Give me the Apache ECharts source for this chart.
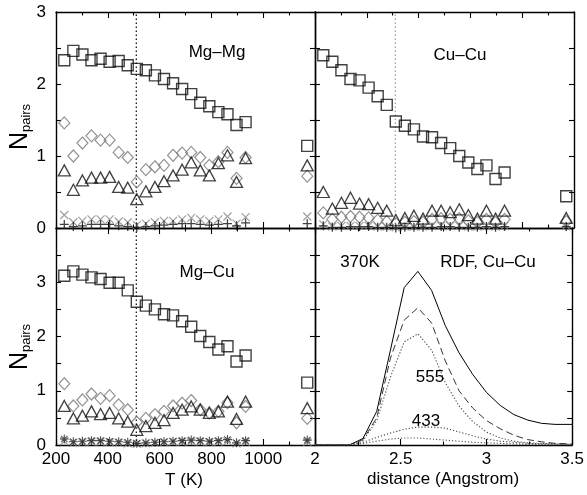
<!DOCTYPE html>
<html><head><meta charset="utf-8">
<script src="https://cdn.jsdelivr.net/npm/echarts@6/dist/echarts.min.js"></script>
<style>html,body{margin:0;padding:0;background:#fff}#c{width:587px;height:495px}</style>
</head><body><div id="c"></div>
<script>
// ---------- data ----------
const temps = [232, 267, 302, 337, 372, 407, 442, 477, 512, 547, 582, 617, 652, 687, 722, 757, 792, 827, 862, 897, 932];
const tLiquid = 1170;
const tTransition = 510;

// Mg-Mg panel
const mgmgSquare  = [2.33, 2.46, 2.41, 2.33, 2.35, 2.31, 2.32, 2.26, 2.21, 2.19, 2.12, 2.07, 2.01, 1.93, 1.86, 1.74, 1.69, 1.61, 1.58, 1.43, 1.47, 1.14];
const mgmgDiamond = [1.46, 1.00, 1.18, 1.28, 1.22, 1.22, 1.05, 0.98, 0.64, 0.81, 0.85, 0.87, 1.01, 1.04, 1.05, 0.98, 0.87, 0.92, 1.05, 0.69, 0.98, 0.72];
const mgmgTriangle= [0.80, 0.53, 0.66, 0.70, 0.70, 0.71, 0.57, 0.56, 0.40, 0.51, 0.57, 0.65, 0.73, 0.81, 0.91, 0.80, 0.73, 0.90, 1.01, 0.64, 0.97, 0.87];
const mgmgCross   = [0.18, 0.08, 0.10, 0.12, 0.12, 0.12, 0.09, 0.08, 0.04, 0.06, 0.08, 0.10, 0.10, 0.12, 0.14, 0.12, 0.10, 0.12, 0.16, 0.06, 0.15, 0.16];
const mgmgPlus    = [0.05, 0.02, 0.03, 0.05, 0.05, 0.05, 0.03, 0.02, 0.01, 0.02, 0.03, 0.04, 0.05, 0.06, 0.06, 0.05, 0.04, 0.05, 0.06, 0.03, 0.07, 0.06];

// Cu-Cu panel
const cucuSquare  = [2.40, 2.31, 2.19, 2.07, 2.05, 1.95, 1.83, 1.71, 1.48, 1.42, 1.37, 1.27, 1.26, 1.18, 1.11, 1.00, 0.91, 0.82, 0.87, 0.68, 0.77, 0.44];
const cucuTriangle= [0.50, 0.27, 0.35, 0.42, 0.34, 0.33, 0.28, 0.24, 0.11, 0.14, 0.17, 0.13, 0.24, 0.24, 0.22, 0.26, 0.18, 0.13, 0.24, 0.13, 0.24, 0.14];
const cucuDiamond = [0.21, 0.12, 0.15, 0.16, 0.15, 0.14, 0.11, 0.09, 0.06, 0.08, 0.09, 0.08, 0.12, 0.13, 0.12, 0.13, 0.10, 0.08, 0.12, 0.08, 0.12, 0.09];
const cucuCross   = [0.05, 0.02, 0.03, 0.03, 0.03, 0.03, 0.02, 0.02, 0.01, 0.02, 0.02, 0.02, 0.03, 0.03, 0.03, 0.03, 0.02, 0.02, 0.03, 0.02, 0.03, 0.03];
const cucuPlus    = [0.03, 0.01, 0.01, 0.02, 0.02, 0.02, 0.01, 0.01, 0.00, 0.01, 0.01, 0.01, 0.01, 0.02, 0.02, 0.01, 0.01, 0.01, 0.02, 0.01, 0.02, 0.02];

// Mg-Cu panel
const mgcuSquare  = [3.12, 3.20, 3.14, 3.09, 3.06, 2.99, 2.99, 2.85, 2.64, 2.57, 2.50, 2.41, 2.39, 2.28, 2.18, 2.01, 1.90, 1.76, 1.82, 1.54, 1.65, 1.15];
const mgcuDiamond = [1.13, 0.72, 0.83, 0.94, 0.86, 0.91, 0.74, 0.65, 0.42, 0.49, 0.56, 0.62, 0.72, 0.77, 0.82, 0.65, 0.59, 0.62, 0.78, 0.41, 0.71, 0.49];
const mgcuTriangle= [0.72, 0.49, 0.54, 0.62, 0.57, 0.59, 0.49, 0.43, 0.28, 0.35, 0.41, 0.46, 0.59, 0.65, 0.71, 0.65, 0.59, 0.62, 0.80, 0.48, 0.80, 0.68];
const mgcuStar    = [0.11, 0.06, 0.07, 0.08, 0.08, 0.07, 0.06, 0.05, 0.03, 0.04, 0.05, 0.06, 0.07, 0.08, 0.09, 0.08, 0.07, 0.08, 0.10, 0.04, 0.08, 0.09];
const mgcuCross   = [0.07, 0.04, 0.05, 0.06, 0.06, 0.05, 0.04, 0.03, 0.02, 0.03, 0.04, 0.05, 0.06, 0.06, 0.07, 0.06, 0.05, 0.06, 0.07, 0.03, 0.06, 0.06];

// RDF Cu-Cu panel
const dist      = [2.0, 2.2, 2.28, 2.36, 2.44, 2.52, 2.6, 2.68, 2.76, 2.84, 2.92, 3.0, 3.08, 3.16, 3.24, 3.32, 3.4, 3.5];
const rdf370    = [0, 0, 0.12, 0.62, 1.75, 2.90, 3.20, 2.85, 2.20, 1.70, 1.30, 0.97, 0.73, 0.56, 0.46, 0.40, 0.38, 0.38];
const rdfDashed = [0, 0, 0.10, 0.50, 1.60, 2.30, 2.53, 2.25, 1.55, 1.00, 0.68, 0.45, 0.30, 0.18, 0.10, 0.06, 0.03, 0.02];
const rdf555    = [0, 0, 0.08, 0.45, 1.25, 1.90, 2.05, 1.75, 1.15, 0.72, 0.43, 0.24, 0.13, 0.07, 0.04, 0.03, 0.02, 0.01];
const rdf433    = [0, 0, 0.05, 0.14, 0.22, 0.29, 0.33, 0.33, 0.31, 0.24, 0.17, 0.11, 0.07, 0.05, 0.03, 0.02, 0.02, 0.01];
const rdfLow    = [0, 0, 0.03, 0.07, 0.11, 0.13, 0.13, 0.11, 0.09, 0.07, 0.05, 0.04, 0.03, 0.02, 0.01, 0.01, 0.01, 0.00];

const xTickLabels = ['200', '400', '600', '800', '1000'];
const rdfTickLabels = ['2', '2.5', '3', '3.5'];
const yTickLabels = ['0', '1', '2', '3'];

// ---------- chart ----------
const FONT = '"Liberation Sans", Arial, Helvetica, sans-serif';
const BLACK = '#000';
const axLine = {color: BLACK, width: 1.4};

function xAxisPair(g, min, max, interval, labels) {
  const base = {
    gridIndex: g, type: 'value', min: min, max: max, interval: interval,
    axisLine: {show: true, onZero: false, lineStyle: axLine},
    axisTick: {show: true, inside: true, length: 6, lineStyle: {color: BLACK, width: 1.1}},
    minorTick: {show: true, splitNumber: 2, length: 3.5, lineStyle: {color: BLACK, width: 1.1}},
    splitLine: {show: false}, minorSplitLine: {show: false}
  };
  const bottom = Object.assign({}, base, {
    position: 'bottom',
    axisLabel: labels ? {
      show: true, color: BLACK, fontSize: 17, fontFamily: FONT, margin: 6,
      formatter: v => (labels.indexOf(String(+v.toFixed(2))) >= 0 ? String(+v.toFixed(2)) : '')
    } : {show: false}
  });
  const top = Object.assign({}, base, {position: 'top', axisLabel: {show: false}});
  return [bottom, top];
}
function yAxisPair(g, min, max, labels) {
  const base = {
    gridIndex: g, type: 'value', min: min, max: max, interval: 1,
    axisLine: {show: true, onZero: false, lineStyle: axLine},
    axisTick: {show: true, inside: true, length: 5, lineStyle: {color: BLACK, width: 1.1}},
    minorTick: {show: true, splitNumber: 2, length: 5, lineStyle: {color: BLACK, width: 1.1}},
    splitLine: {show: false}, minorSplitLine: {show: false}
  };
  const left = Object.assign({}, base, {
    position: 'left',
    axisLabel: labels ? {
      show: true, color: BLACK, fontSize: 17, fontFamily: FONT, margin: 10,
      formatter: v => (labels.indexOf(String(v)) >= 0 ? String(v) : '')
    } : {show: false}
  });
  const right = Object.assign({}, base, {position: 'right', axisLabel: {show: false}});
  return [left, right];
}

const grids = [
  {left: 56, top: 12, width: 259, height: 216},   // TL Mg-Mg
  {left: 315, top: 12, width: 259, height: 216},  // TR Cu-Cu
  {left: 56, top: 228, width: 259, height: 217},  // BL Mg-Cu
  {left: 315, top: 228, width: 259, height: 217}  // BR RDF
];

const xAxes = [].concat(
  xAxisPair(0, 200, 1200, 200, null),
  xAxisPair(1, 200, 1200, 200, null),
  xAxisPair(2, 200, 1200, 200, xTickLabels),
  xAxisPair(3, 2, 3.5, 0.5, rdfTickLabels)
);
const yAxes = [].concat(
  yAxisPair(0, 0, 3, yTickLabels),
  yAxisPair(1, 0, 3, null),
  yAxisPair(2, 0, 4, yTickLabels),
  yAxisPair(3, 0, 4, null)
);

const SYM = {
  square:   {symbol: 'rect', size: 11, color: '#111', width: 1.4},
  diamond:  {symbol: 'diamond', size: [11, 12], color: '#777', width: 1.2},
  triangle: {symbol: 'triangle', size: [12, 11], color: '#111', width: 1.3},
  cross:    {symbol: 'path://M0,0L10,10M10,0L0,10', size: 8, color: '#888', width: 1.2},
  plus:     {symbol: 'path://M5,0L5,10M0,5L10,5', size: 9, color: '#111', width: 1.3},
  star:     {symbol: 'path://M5,0L5,10M0,5L10,5M1.5,1.5L8.5,8.5M8.5,1.5L1.5,8.5', size: 9, color: '#222', width: 1.1}
};
const xs = temps.concat([tLiquid]);
function scatter(g, values, kind) {
  const s = SYM[kind];
  return {
    type: 'scatter', xAxisIndex: 2 * g, yAxisIndex: 2 * g,
    data: values.map((v, i) => [xs[i], v]),
    symbol: s.symbol, symbolSize: s.size,
    itemStyle: {color: 'rgba(0,0,0,0)', borderColor: s.color, borderWidth: s.width},
    silent: true, z: 3
  };
}
function vline(g, x, yMax, color) {
  return {
    type: 'line', xAxisIndex: 2 * g, yAxisIndex: 2 * g, data: [[x, 0], [x, yMax]],
    symbol: 'none', silent: true, z: 2,
    lineStyle: {color: color, width: 1.2, type: [1.5, 2.5]}
  };
}
function rdfLine(values, color, type, width) {
  return {
    type: 'line', xAxisIndex: 6, yAxisIndex: 6, data: values.map((v, i) => [dist[i], v]),
    symbol: 'none', silent: true, z: 3,
    lineStyle: {color: color, width: width, type: type}
  };
}

const series = [
  vline(0, tTransition, 3, '#000'),
  vline(2, tTransition, 4, '#000'),
  vline(1, tTransition, 3, '#999'),
  scatter(0, mgmgSquare, 'square'), scatter(0, mgmgDiamond, 'diamond'), scatter(0, mgmgTriangle, 'triangle'),
  scatter(0, mgmgCross, 'cross'), scatter(0, mgmgPlus, 'plus'),
  scatter(1, cucuSquare, 'square'), scatter(1, cucuDiamond, 'diamond'), scatter(1, cucuTriangle, 'triangle'),
  scatter(1, cucuCross, 'cross'), scatter(1, cucuPlus, 'plus'),
  scatter(2, mgcuSquare, 'square'), scatter(2, mgcuDiamond, 'diamond'), scatter(2, mgcuTriangle, 'triangle'),
  scatter(2, mgcuCross, 'cross'), scatter(2, mgcuStar, 'star'),
  rdfLine(rdf370, '#000', 'solid', 1),
  rdfLine(rdfDashed, '#333', [7, 4], 1),
  rdfLine(rdf555, '#444', [1.2, 2], 1.1),
  rdfLine(rdf433, '#444', [1.2, 2], 1.1),
  rdfLine(rdfLow, '#555', [1.2, 2], 1.1)
];

function txt(x, y, s, size) {
  return {type: 'text', x: x, y: y, silent: true, z: 10,
    style: {text: s, fontSize: size || 17, fontFamily: FONT, fill: BLACK, align: 'center', verticalAlign: 'middle'}};
}
function npairs(x, y) {
  return {type: 'text', x: x, y: y, rotation: Math.PI / 2, silent: true, z: 10,
    style: {text: '{n|N}{s|pairs}', align: 'center', verticalAlign: 'middle', fontFamily: FONT,
      rich: {
        n: {fontSize: 25, fontFamily: FONT, fill: BLACK, verticalAlign: 'middle', lineHeight: 26},
        s: {fontSize: 13, fontFamily: FONT, fill: BLACK, verticalAlign: 'bottom', lineHeight: 13}
      }}};
}

const option = {
  animation: false,
  backgroundColor: '#fff',
  grid: grids.map(g => Object.assign({show: false, containLabel: false}, g)),
  xAxis: xAxes,
  yAxis: yAxes,
  series: series,
  graphic: [
    txt(217, 52, 'Mg–Mg'),
    txt(460, 55, 'Cu–Cu'),
    txt(207, 272, 'Mg–Cu'),
    txt(360, 262, '370K'),
    txt(488, 262, 'RDF, Cu–Cu'),
    txt(430, 377, '555'),
    txt(426, 421, '433'),
    txt(184, 480, 'T (K)'),
    txt(443, 479, 'distance (Angstrom)'),
    npairs(20, 127),
    npairs(20, 347)
  ]
};

const chart = echarts.init(document.getElementById('c'), null, {renderer: 'canvas', width: 587, height: 495});
chart.setOption(option);
</script></body></html>
